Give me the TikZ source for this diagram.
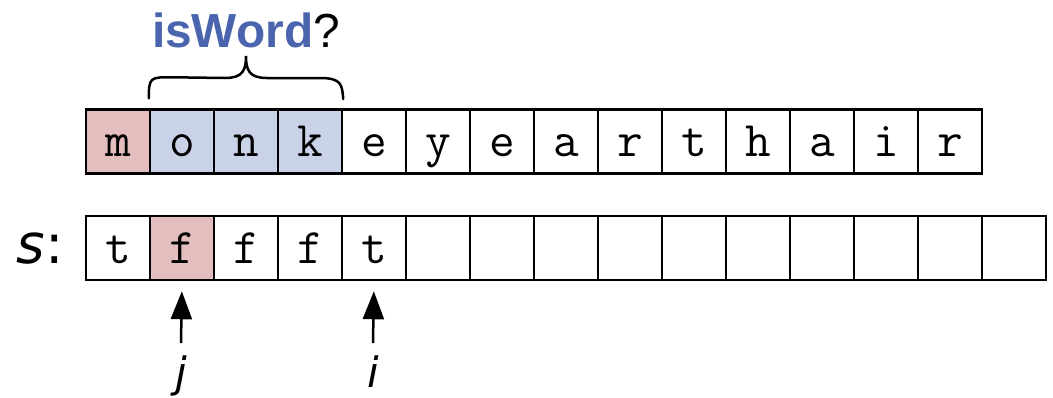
\documentclass[tikz,border=0pt]{standalone}
\usepackage{fontspec}
\setmainfont{Liberation Sans}
\newfontfamily\itfont{DejaVu Sans}
\usetikzlibrary{arrows.meta}
\definecolor{cellred}{HTML}{E4BDBE}
\definecolor{cellblue}{HTML}{C9D2E6}
\definecolor{wordblue}{HTML}{4A65AE}
\tikzset{
  cell/.style={draw=black, line width=2.5bp, minimum width=64bp, minimum height=64bp,
    inner sep=0pt, text height=30bp, text depth=0bp,
    font=\ttfamily\fontsize{50}{50}\selectfont},
  redcell/.style={cell, fill=cellred},
  bluecell/.style={cell, fill=cellblue},
  ptr/.style={line width=2.5bp, -{Triangle[length=28bp,width=21bp]}, shorten >=10bp},
  itlabel/.style={font=\itfont\itshape\fontsize{42}{42}\selectfont, inner sep=0pt}
}
\begin{document}
\begin{tikzpicture}[x=1bp,y=-1bp]
\useasboundingbox (0,0) rectangle (1053,397);
% top row
\foreach \c [count=\k] in {m,o,n,k,e,y,e,a,r,t,h,a,i,r} {
  \pgfmathsetmacro{\xx}{86+32+64*(\k-1)}
  \ifnum\k=1
    \node[redcell] (t\k) at (\xx,141.5) {\c};
  \else\ifnum\k<5
    \node[bluecell] (t\k) at (\xx,141.5) {\c};
  \else
    \node[cell] (t\k) at (\xx,141.5) {\c};
  \fi\fi
}
% bottom row
\foreach \c [count=\k] in {t,f,f,f,t,{},{},{},{},{},{},{},{},{},{}} {
  \pgfmathsetmacro{\xx}{86+32+64*(\k-1)}
  \ifnum\k=2
    \node[redcell] (b\k) at (\xx,248) {\c};
  \else
    \node[cell] (b\k) at (\xx,248) {\c};
  \fi
}
% s label
\node[anchor=base east, inner sep=0pt, font=\itfont\fontsize{55}{55}\selectfont] (slab) at (64,263) {\itshape s\upshape:};
% brace
\draw[line width=2.5bp, line cap=round] (t2.north west) ++(0,-10)
  .. controls +(0,-21) and +(-20,0) .. ++(22,-21) coordinate (bl)
  -- (225,78) .. controls (243,78) and (246,70) .. (246,56)
  .. controls (246,70) and (249,78) .. (267,78)
  -- (320,78) .. controls (342,78) and (342,85) .. (t4.north east |- 0,99);
% isWord?
\node[anchor=base, inner sep=0pt, font=\fontsize{48}{48}\selectfont] (iw) at (246,47)
  {\textcolor{wordblue}{\bfseries isWord}?};
% pointers
\node[itlabel, anchor=base] (jl) at (181,387) {j};
\node[itlabel, anchor=base] (il) at (373,387) {i};
\coordinate (js) at (181,343);
\coordinate (is) at (373,343);
\draw[ptr] (js) -- (b2.south);
\draw[ptr] (is) -- (b5.south);
\end{tikzpicture}
\end{document}
